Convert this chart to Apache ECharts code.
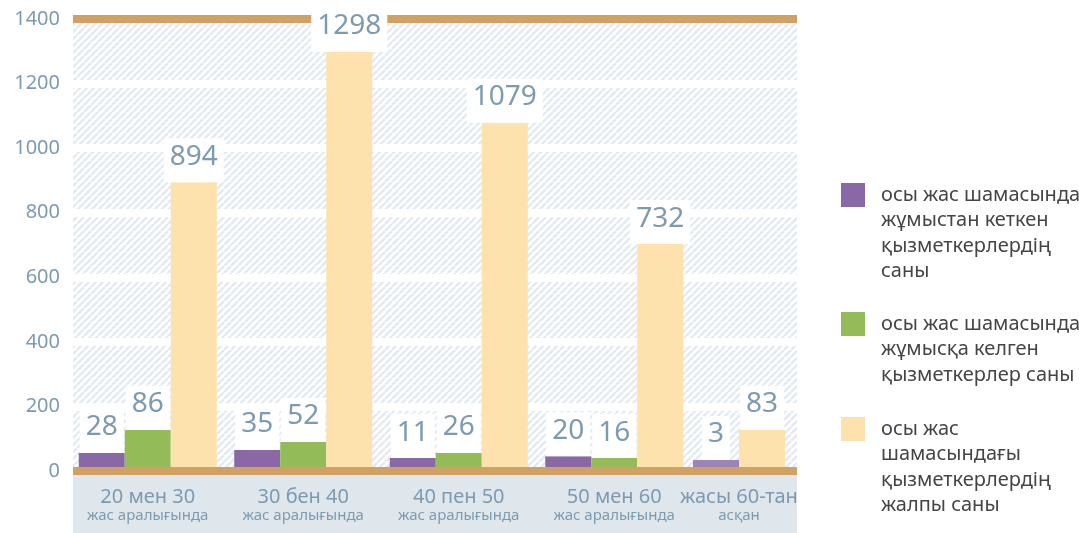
<!DOCTYPE html>
<html>
<head>
<meta charset="utf-8">
<script src="https://cdn.jsdelivr.net/npm/echarts@6/dist/echarts.min.js"></script>
<style>
  html, body { margin: 0; padding: 0; background: #fff; }
  #chart { width: 1079px; height: 533px; }
</style>
</head>
<body>
<div id="chart"></div>
<script>
// age groups (first four share one layout, the last one has no "joined" bar)
const groupTop = ['20 мен 30', '30 бен 40', '40 пен 50', '50 мен 60']
const groupBottom = ['жас аралығында', 'жас аралығында', 'жас аралығында', 'жас аралығында']
const lastTop = ['жасы 60-тан']
const lastBottom = ['асқан']

const seriesNames = [
  'осы жас шамасында жұмыстан кеткен қызметкерлердің саны',
  'осы жас шамасында жұмысқа келген қызметкерлер саны',
  'осы жас шамасындағы қызметкерлердің жалпы саны'
]
const legendLines = [
  ['осы жас шамасында', 'жұмыстан кеткен', 'қызметкерлердің', 'саны'],
  ['осы жас шамасында', 'жұмысқа келген', 'қызметкерлер саны'],
  ['осы жас', 'шамасындағы', 'қызметкерлердің', 'жалпы саны']
]

// numbers printed over the bars
const leftLabels = [28, 35, 11, 20]
const joinedLabels = [86, 52, 26, 16]
const totalLabels = [894, 1298, 1079, 732]
const lastLeftLabels = [3]
const lastTotalLabels = [83]

// bar heights as drawn in the picture
const leftHeights = [56, 65, 40, 46]
const joinedHeights = [127, 90, 56, 40]
const totalHeights = [894, 1298, 1079, 703]
const lastLeftHeights = [34]
const lastTotalHeights = [127]

const yMin = 0
const yMax = 1400
const yStep = 200

const TAN = '#d1a063'
const TXT = '#7c9bb1'
const FONT = 'Noto Sans'

// diagonal hatch for the plot background
const hatch = document.createElement('canvas')
hatch.width = 7
hatch.height = 7
const hctx = hatch.getContext('2d')
hctx.fillStyle = '#fff'
hctx.fillRect(0, 0, 7, 7)
hctx.strokeStyle = '#e3eaf1'
hctx.lineWidth = 2.5
for (const o of [-7, 0, 7]) {
  hctx.beginPath()
  hctx.moveTo(o, 7)
  hctx.lineTo(o + 7, 0)
  hctx.stroke()
}

const barLabel = (labels) => ({
  show: true,
  position: 'top',
  distance: 0,
  formatter: p => String(labels[p.dataIndex]),
  backgroundColor: '#fff',
  padding: [5, 6, 12, 6],
  fontSize: 28,
  lineHeight: 27,
  color: TXT,
  fontFamily: FONT
})

const catLabel = (tops, bottoms) => ({
  interval: 0,
  margin: 16,
  formatter: (v, i) => '{a|' + tops[i] + '}\n{b|' + bottoms[i] + '}',
  rich: {
    a: { fontSize: 20, lineHeight: 20, color: TXT, fontFamily: FONT },
    b: { fontSize: 15, lineHeight: 18, color: TXT, fontFamily: FONT }
  }
})

const myChart = echarts.init(document.getElementById('chart'))

// legend icons sit next to the first text line
const iconTops = [183, 312, 417]
const LH = 25.5

var option = {
  animation: false,
  textStyle: { fontFamily: FONT },
  graphic: [
    { type: 'rect', left: 73, top: 475, shape: { width: 724, height: 58 }, style: { fill: '#dfe6ec' }, z: 0 }
  ],
  grid: [
    { left: 70, width: 622, top: 19, bottom: 62 },
    { left: 693, width: 92, top: 19, bottom: 62 },
    { left: 73, width: 724, top: 19, bottom: 62, show: true, borderWidth: 0,
      backgroundColor: { image: hatch, repeat: 'repeat' } }
  ],
  xAxis: [
    { type: 'category', gridIndex: 0, data: groupTop, z: 5,
      axisLine: { show: false }, axisTick: { show: false }, axisLabel: catLabel(groupTop, groupBottom) },
    { type: 'category', gridIndex: 1, data: lastTop, z: 5,
      axisLine: { show: false }, axisTick: { show: false }, axisLabel: catLabel(lastTop, lastBottom) },
    { type: 'category', gridIndex: 2, data: [''], z: 10,
      axisLine: { lineStyle: { color: TAN, width: 8, cap: 'butt' } }, axisTick: { show: false }, axisLabel: { show: false } }
  ],
  yAxis: [
    { type: 'value', gridIndex: 0, min: yMin, max: yMax, interval: yStep, show: false },
    { type: 'value', gridIndex: 1, min: yMin, max: yMax, interval: yStep, show: false },
    { type: 'value', gridIndex: 2, min: yMin, max: yMax, interval: yStep,
      axisLine: { show: false }, axisTick: { show: false },
      axisLabel: { margin: 13, fontSize: 20, color: TXT, fontFamily: FONT, formatter: v => String(v) },
      splitLine: { lineStyle: { width: 8, cap: 'butt',
        color: ['rgba(0,0,0,0)', '#fff', '#fff', '#fff', '#fff', '#fff', '#fff', TAN] } } }
  ],
  legend: legendLines.map((lines, i) => ({
    data: [seriesNames[i]],
    left: 841,
    top: iconTops[i] + 12 - (2 * lines.length - 1) * LH / 2,
    orient: 'vertical',
    padding: 0,
    icon: 'rect',
    itemWidth: 24,
    itemHeight: 24,
    selectedMode: false,
    // blank lines on top push the first text line level with the icon
    formatter: () => '\n'.repeat(lines.length - 1) + lines.join('\n'),
    textStyle: { fontSize: 20, lineHeight: LH, color: '#454545', fontFamily: FONT,
      padding: [0, 0, 0, 11] }
  })),
  series: [
    { name: seriesNames[0], type: 'bar', xAxisIndex: 0, yAxisIndex: 0, data: leftHeights,
      barWidth: 46, barGap: '0%', itemStyle: { color: '#8a68a5' }, label: barLabel(leftLabels) },
    { name: seriesNames[1], type: 'bar', xAxisIndex: 0, yAxisIndex: 0, data: joinedHeights,
      barWidth: 46, barGap: '0%', itemStyle: { color: '#93bb57' }, label: barLabel(joinedLabels) },
    { name: seriesNames[2], type: 'bar', xAxisIndex: 0, yAxisIndex: 0, data: totalHeights,
      barWidth: 46, barGap: '0%', itemStyle: { color: '#fde2ad' }, label: barLabel(totalLabels) },
    { name: seriesNames[0], type: 'bar', xAxisIndex: 1, yAxisIndex: 1, data: lastLeftHeights,
      barWidth: 46, barGap: '0%', itemStyle: { color: '#9c84bb' }, label: barLabel(lastLeftLabels) },
    { name: seriesNames[2], type: 'bar', xAxisIndex: 1, yAxisIndex: 1, data: lastTotalHeights,
      barWidth: 46, barGap: '0%', itemStyle: { color: '#fde2ad' }, label: barLabel(lastTotalLabels) }
  ]
}

option && myChart.setOption(option)
</script>
</body>
</html>
